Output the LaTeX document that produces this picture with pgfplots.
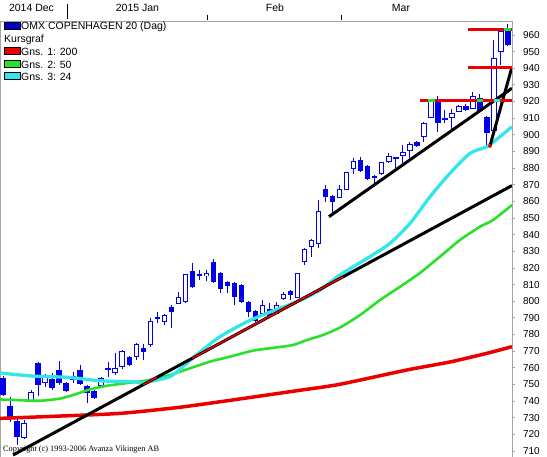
\documentclass[border=0pt]{standalone}
\usepackage{fontspec}
\setmainfont{Liberation Sans}
\newfontfamily\copyfont{Liberation Serif}
\usepackage{pgfplots}
\pgfplotsset{compat=1.18}
\usepackage{pgfplotstable}

\definecolor{cblue}{RGB}{0,0,235}
\definecolor{legblue}{RGB}{0,0,200}
\definecolor{mared}{RGB}{235,0,0}
\definecolor{magreen}{RGB}{40,225,40}
\definecolor{macyan}{RGB}{50,230,235}
\definecolor{framegray}{RGB}{165,165,165}

% up candles: index open high low close
\pgfplotstableread{
i o h l c
3 718.4 728.5 717.0 726.8
4 740.0 746.6 739.4 745.4
6 750.9 756.3 748.4 753.9
10 752.7 757.5 750.9 754.5
14 749.6 754.5 748.4 753.3
15 759.0 763.5 754.5 759.6
16 756.9 768.9 755.7 759.3
17 760.5 770.7 759.3 769.5
19 766.5 774.9 764.7 773.7
21 773.7 789.9 772.5 788.1
22 789.6 793.5 786.9 790.2
23 788.1 792.3 785.7 791.7
25 798.9 805.5 798.3 802.5
26 800.1 816.4 798.9 815.8
28 815.5 818.8 812.8 816.1
29 815.2 818.8 812.2 816.4
37 792.9 800.7 791.7 797.7
39 792.9 799.5 792.3 797.7
40 801.9 805.5 800.7 804.3
42 802.5 816.8 802.0 816.4
43 823.6 832.0 821.8 830.8
44 832.6 837.4 826.6 836.8
45 835.0 860.8 832.0 854.2
48 862.6 869.8 862.0 867.4
49 867.4 877.7 866.8 877.1
50 879.5 886.1 876.5 883.7
53 874.4 875.9 868.6 875.0
54 876.5 883.7 876.0 883.1
55 883.7 889.1 883.1 886.7
56 885.8 886.7 880.1 886.4
57 887.3 893.9 883.1 889.1
58 890.3 895.7 886.1 893.9
60 898.7 907.7 895.7 907.1
61 910.7 920.9 910.1 920.3
63 909.2 914.9 907.1 909.8
64 910.7 915.5 902.9 913.1
65 914.3 917.9 913.7 917.3
67 916.1 925.7 915.5 923.3
70 902.9 957.0 902.3 945.6
71 949.8 963.0 942.0 961.8
}\uptab

% down candles: index open high low close
\pgfplotstableread{
i o h l c
0 753.9 755.1 743.0 743.6
1 737.0 742.4 727.4 730.4
2 728.0 729.8 713.6 718.4
5 762.9 763.5 743.0 749.6
7 753.3 756.9 746.6 747.8
8 758.7 764.1 749.6 750.9
9 750.9 751.5 745.4 746.0
11 758.7 761.7 749.6 750.3
12 749.0 749.6 738.8 744.8
13 746.0 746.6 741.2 741.8
18 766.5 767.0 761.0 761.7
20 771.9 774.3 764.7 769.5
24 796.5 797.7 783.9 793.5
27 818.2 823.0 807.9 808.5
30 823.6 825.4 811.0 811.6
31 817.0 817.6 804.9 807.3
32 811.6 812.2 804.9 809.1
33 811.0 811.6 797.7 802.5
34 809.7 810.3 798.9 799.5
35 799.5 800.0 790.5 793.5
36 794.1 794.7 787.5 788.1
38 795.3 798.9 789.9 790.5
41 806.1 806.7 800.7 803.7
46 867.4 869.8 859.6 862.6
47 863.2 863.8 851.2 859.6
51 884.9 886.7 877.7 878.3
52 881.3 881.9 872.9 873.5
59 895.7 896.3 892.7 893.3
62 920.3 923.3 901.7 907.1
66 917.3 918.5 914.3 914.9
68 922.1 924.5 913.7 914.3
69 910.7 911.3 893.3 901.1
72 963.6 966.6 953.4 954.0
}\downtab

% moving average 200
\pgfplotstableread{
x y
-0.43 729.6
8.13 731.0
16.68 732.6
25.24 736.3
33.79 741.3
42.34 746.5
48.05 750.1
57.60 758.7
63.73 763.5
69.00 768.7
72.57 772.7
}\maone

% moving average 50
\pgfplotstableread{
x y
-0.43 741.0
2.42 740.5
5.28 740.2
8.13 741.5
10.27 744.0
12.40 747.0
14.54 749.0
16.68 750.3
20.96 752.7
23.81 755.7
26.66 759.7
29.51 763.7
32.36 766.7
35.64 770.3
39.06 772.3
41.35 773.7
43.34 776.7
45.62 779.7
48.05 784.2
50.90 791.7
53.75 800.7
56.60 808.7
59.45 817.0
62.30 826.8
65.15 836.8
68.01 844.8
69.86 848.8
72.57 857.8
}\matwo

% moving average 24
\pgfplotstableread{
x y
-0.43 756.9
4.28 755.0
9.12 754.3
13.83 752.2
18.53 751.6
19.96 751.0
23.81 754.7
26.23 762.8
28.09 769.5
30.94 778.7
34.79 787.7
38.07 793.5
41.92 799.7
45.20 806.7
48.05 815.8
52.32 826.8
55.18 834.8
58.03 846.8
60.88 862.8
63.73 876.9
66.58 888.9
69.00 892.9
70.86 898.9
72.57 904.9
}\mathree

\begin{document}
\begin{tikzpicture}
\path[use as bounding box] (0pt,0pt) rectangle (547pt,457pt);
\begin{axis}[
  at={(0pt,0pt)}, anchor=south west,
  scale only axis, width=512pt, height=436pt,
  xmin=-0.43, xmax=72.57, ymin=706.4, ymax=968.4,
  xtick=\empty,
  ytick={710,720,...,960},
  ytick pos=right,
  tick align=outside,
  major tick length=3.5pt,
  axis line style={draw=framegray, line width=0.8pt},
  tick style={draw=framegray, line width=0.8pt},
  yticklabel style={font=\fontsize{10}{12}\selectfont, anchor=west, xshift=4pt},
  /pgf/number format/assume math mode=true,
  clip=true,
]
% wicks
\addplot[draw=none, mark=none, error bars/.cd, y dir=both, y explicit, error mark=none,
  error bar style={draw=cblue, line width=1pt, solid}]
  table[x=i, y=o, y error plus expr=\thisrow{h}-\thisrow{o}, y error minus expr=\thisrow{o}-\thisrow{l}] {\uptab};
\addplot[draw=none, mark=none, error bars/.cd, y dir=both, y explicit, error mark=none,
  error bar style={draw=cblue, line width=1pt, solid}]
  table[x=i, y=o, y error plus expr=\thisrow{h}-\thisrow{o}, y error minus expr=\thisrow{o}-\thisrow{l}] {\downtab};
% down bodies (filled)
\addplot[draw=none, mark=none, error bars/.cd, y dir=both, y explicit, error mark=none,
  error bar style={draw=cblue, line width=5.5pt, solid}]
  table[x=i, y expr=(\thisrow{o}+\thisrow{c})/2, y error expr=(\thisrow{o}-\thisrow{c})/2] {\downtab};
% up bodies (hollow)
\addplot[draw=none, mark=none, error bars/.cd, y dir=both, y explicit, error mark=none,
  error bar style={draw=cblue, line width=5.5pt, solid}]
  table[x=i, y expr=(\thisrow{o}+\thisrow{c})/2, y error expr=(\thisrow{c}-\thisrow{o})/2+0.3] {\uptab};
\addplot[draw=none, mark=none, error bars/.cd, y dir=both, y explicit, error mark=none,
  error bar style={draw=white, line width=3.5pt, solid}]
  table[x=i, y expr=(\thisrow{o}+\thisrow{c})/2, y error expr={max((\thisrow{c}-\thisrow{o})/2-0.3,0)}] {\uptab};

% moving averages
\addplot[mared, line width=3.5pt, smooth, tension=0.4] table[x=x, y=y] {\maone};
\addplot[magreen, line width=2.6pt, smooth, tension=0.4] table[x=x, y=y] {\matwo};
\addplot[macyan, line width=3.3pt, smooth, tension=0.4] table[x=x, y=y] {\mathree};

% trend lines
\addplot[black, line width=3pt] coordinates {(1.43,707.6) (72.57,869.5)};
\addplot[mared, line width=1.6pt] coordinates {(19.96,749.8) (21.96,754.3)};
\addplot[mared, line width=1.6pt] coordinates {(26.95,765.7) (48.47,814.65)};
\addplot[black, line width=3pt] coordinates {(46.48,850.8) (72.57,928.0)};
\addplot[black, line width=3pt] coordinates {(69.43,893.3) (72.57,940.8)};
\addplot[only marks, mark=*, mark size=1.8pt, mark options={draw=mared, fill=mared}] coordinates {(69.43,893.3)};

% horizontal levels
\addplot[mared, line width=3.5pt] coordinates {(59.45,920.5) (72.57,920.5)};
\addplot[mared, line width=3.5pt] coordinates {(66.30,940.6) (72.57,940.6)};
\addplot[mared, line width=3.5pt] coordinates {(66.30,963.4) (72.57,963.4)};
\addplot[magreen, line width=3.5pt] coordinates {(60.59,920.5) (61.59,920.5)};
\addplot[magreen, line width=3.5pt] coordinates {(67.58,920.5) (68.43,920.5)};
\addplot[macyan, line width=3.5pt] coordinates {(70.0,920.5) (70.9,920.5)};
\addplot[magreen, line width=3.5pt] coordinates {(71.43,963.4) (72.43,963.4)};
\end{axis}

% month labels on top
\begin{scope}[every node/.style={font=\fontsize{10.5}{12}\selectfont, inner sep=0pt}]
\node at (31.5pt,449.5pt) {2014 Dec};
\node at (137.5pt,449.5pt) {2015 Jan};
\node at (275pt,449.5pt) {Feb};
\node at (401pt,449.5pt) {Mar};
\end{scope}
\draw[black, line width=0.8pt] (67pt,453pt) -- (67pt,438pt);
\draw[black, line width=0.8pt] (207pt,442pt) -- (207pt,437pt);
\draw[black, line width=0.8pt] (341pt,442pt) -- (341pt,437pt);

% legend
\begin{scope}[every node/.style={font=\fontsize{10.5}{12}\selectfont, inner sep=0pt, anchor=base west}]
\filldraw[fill=legblue, draw=black, line width=0.6pt] (4pt,428pt) rectangle (20pt,435pt);
\node at (21pt,427pt) {OMX COPENHAGEN 20 (Dag)};
\node at (4pt,414.3pt) {Kursgraf};
\filldraw[fill=mared, draw=black, line width=0.6pt] (4pt,402.6pt) rectangle (20pt,409.6pt);
\node at (21pt,401.6pt) {Gns. 1: 200};
\filldraw[fill=magreen, draw=black, line width=0.6pt] (4pt,389.9pt) rectangle (20pt,396.9pt);
\node at (21pt,388.9pt) {Gns. 2: 50};
\filldraw[fill=macyan, draw=black, line width=0.6pt] (4pt,377.2pt) rectangle (20pt,384.2pt);
\node at (21pt,376.2pt) {Gns. 3: 24};
\end{scope}

% copyright
\node[font=\copyfont\fontsize{8.3}{10}\selectfont, inner sep=0pt, anchor=west] at (3pt,7pt) {Copyright (c) 1993-2006 Avanza Vikingen AB};
\end{tikzpicture}
\end{document}
